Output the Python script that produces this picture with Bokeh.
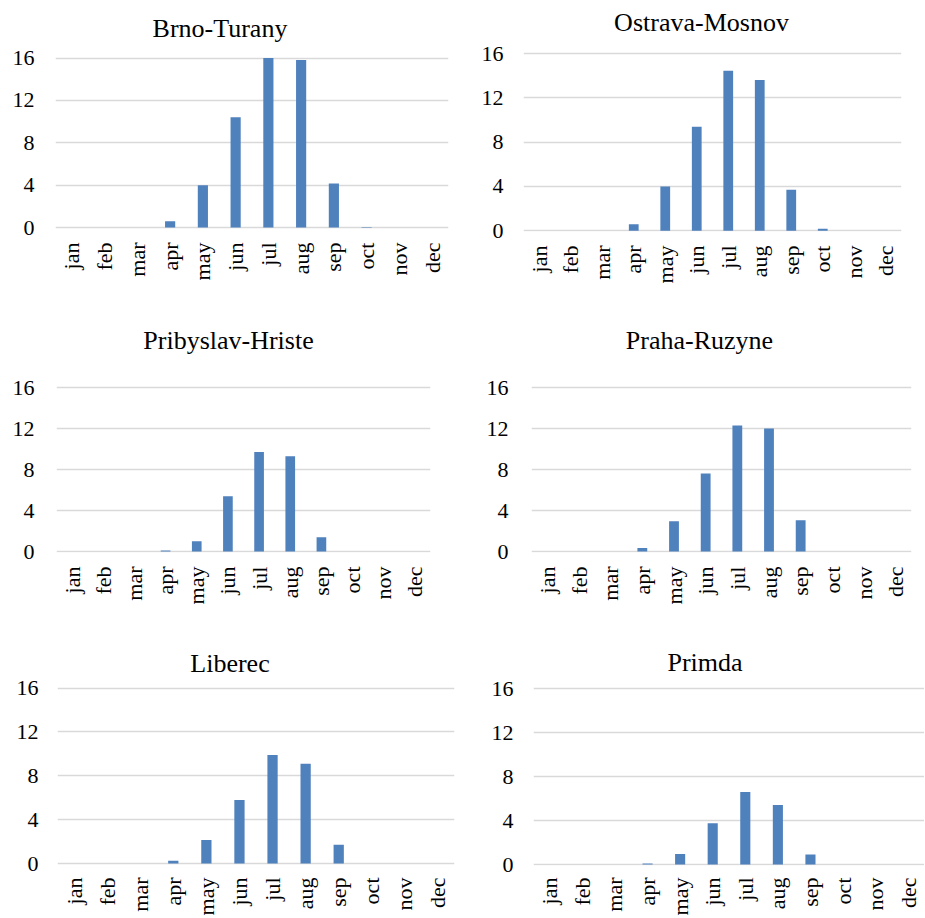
import math
from bokeh.plotting import figure
from bokeh.layouts import column, row
from bokeh.models import FactorRange, Range1d, FixedTicker, Label
from bokeh.embed import file_html
from bokeh.resources import INLINE

months = ["jan", "feb", "mar", "apr", "may", "jun", "jul", "aug", "sep", "oct", "nov", "dec"]
stations = ["Brno-Turany", "Ostrava-Mosnov", "Pribyslav-Hriste", "Praha-Ruzyne", "Liberec", "Primda"]
brno = [0, 0, 0, 0.6, 4.0, 10.4, 16.0, 15.8, 4.15, 0.05, 0, 0]
ostrava = [0, 0, 0, 0.6, 4.0, 9.4, 14.45, 13.6, 3.7, 0.18, 0, 0]
pribyslav = [0, 0, 0, 0.1, 1.0, 5.4, 9.7, 9.3, 1.4, 0, 0, 0]
praha = [0, 0, 0, 0.35, 2.95, 7.6, 12.3, 12.0, 3.05, 0, 0, 0]
liberec = [0, 0, 0, 0.25, 2.15, 5.8, 9.9, 9.1, 1.7, 0, 0, 0]
primda = [0, 0, 0, 0.1, 0.95, 3.75, 6.6, 5.4, 0.9, 0, 0, 0]
y_ticks = [0, 4, 8, 12, 16]

FONT = "Liberation Serif"
BLUE = "#4F81BD"
GRID = "#D9D9D9"

# Pixel layout of each panel (relative to its row top):
# min_border_left, frame_width, min_border_right, frame_height, min_border_bottom,
# px of the "16" gridline, px of the "0" gridline, x-label standoff,
# title x offset, title y offset, y-label standoff
layouts = [
    (55, 393, 22, 231, 69, 57.5, 227.0, 11, -32, 30, 21),
    (53, 378, 23, 231, 69, 53.0, 230.3, 14, -11, 31, 20),
    (56, 374, 40, 252, 63, 87.0, 251.0, 14, -15, 47, 22),
    (61, 380, 13, 252, 63, 87.0, 251.0, 14, -22, 47, 23),
    (57, 397, 16, 250, 52, 72.5, 248.0, 12, -26, 25, 19),
    (63, 391, 0, 250, 52, 73.0, 249.0, 12, -24, 26, 20),
]


def make(title, vals, L):
    mbl, fw, mbr, fh, mbb, top16, zero, xst, tx, ty, yst = L
    upp = 16.0 / (zero - top16)
    y_start = -(fh - zero) * upp
    y_end = 16.0 + top16 * upp
    p = figure(x_range=FactorRange(factors=months), y_range=Range1d(y_start, y_end),
               frame_width=fw, frame_height=fh,
               min_border_left=mbl, min_border_right=mbr,
               min_border_top=0, min_border_bottom=mbb,
               output_backend="svg", toolbar_location=None)
    p.vbar(x=months, top=vals, width=0.31, fill_color=BLUE, line_color=None)
    p.add_layout(Label(x=len(months) / 2, y=16, x_offset=tx, y_offset=ty, text=title,
                       text_font=FONT, text_font_size="26px", text_color="black",
                       text_align="center", text_baseline="alphabetic"))
    p.outline_line_color = None
    p.background_fill_color = "white"
    p.border_fill_color = "white"

    xa = p.xaxis[0]
    xa.major_label_orientation = math.pi / 2
    xa.major_label_text_font = FONT
    xa.major_label_text_font_size = "22px"
    xa.major_label_text_color = "black"
    xa.axis_line_color = None
    xa.major_tick_line_color = None
    xa.minor_tick_line_color = None
    xa.major_tick_out = 0
    xa.major_label_standoff = xst

    ya = p.yaxis[0]
    ya.ticker = FixedTicker(ticks=y_ticks)
    ya.major_label_text_font = FONT
    ya.major_label_text_font_size = "22px"
    ya.major_label_text_color = "black"
    ya.axis_line_color = None
    ya.major_tick_line_color = None
    ya.minor_tick_line_color = None
    ya.major_tick_out = 0
    ya.major_label_standoff = yst

    p.xgrid.visible = False
    p.ygrid.ticker = FixedTicker(ticks=y_ticks)
    p.ygrid.grid_line_color = GRID
    p.ygrid.grid_line_width = 1.3
    return p


series = [brno, ostrava, pribyslav, praha, liberec, primda]
figs = [make(t, v, L) for t, v, L in zip(stations, series, layouts)]
layout = column(row(figs[0], figs[1]), row(figs[2], figs[3]), row(figs[4], figs[5]))

open("out.html", "w").write(file_html(layout, INLINE))
